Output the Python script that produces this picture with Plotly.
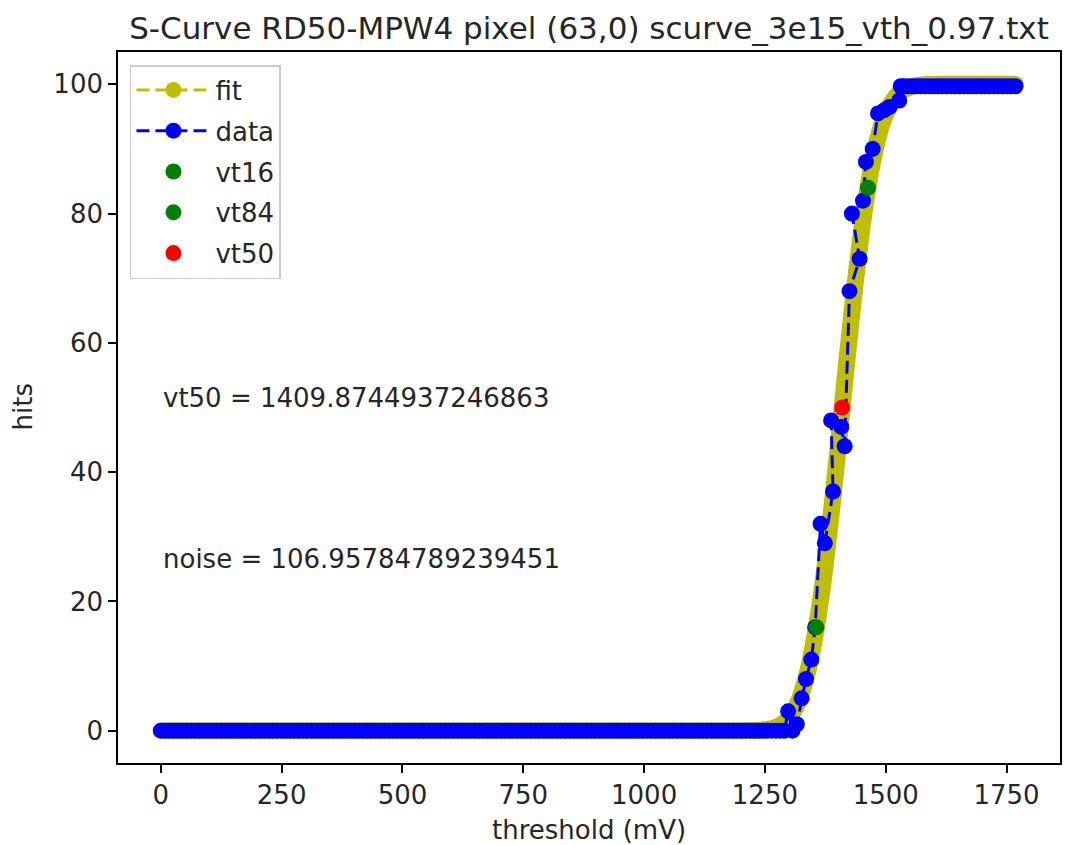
import plotly.graph_objects as go

# ---------------- data ----------------
title_text = "S-Curve RD50-MPW4 pixel (63,0) scurve_3e15_vth_0.97.txt"
vt50 = 1409.8744937246863
noise = 106.95784789239451
vt16 = vt50 - noise / 2
vt84 = vt50 + noise / 2

low_thresholds = [round(i * 8.9, 1) for i in range(146)]          # 0 .. 1290.5 mV
low_hits = [0] * 146
trans_thresholds = [1298, 1307, 1316, 1326, 1335, 1346, 1354, 1365, 1374, 1391,
                    1387, 1408, 1415, 1425, 1446, 1430, 1453, 1459, 1473, 1484,
                    1497, 1508, 1528, 1531]
trans_hits = [3, 0, 1, 5, 8, 11, 16, 32, 29, 37,
              48, 47, 44, 68, 73, 80, 82, 88, 90, 95.5,
              96, 96.5, 97.5, 99.7]
high_thresholds = [round(1537 + i * 8.9, 1) for i in range(27)]    # 1537 .. 1768 mV
high_hits = [99.7] * 27

data_x = low_thresholds + trans_thresholds + high_thresholds
data_y = low_hits + trans_hits + high_hits

# fit curve values (10 mV grid)
fit_low_x = list(range(0, 1200, 10))
fit_low_y = [0] * len(fit_low_x)
fit_mid_x = list(range(1200, 1610, 10))
fit_mid_y = [0.0, 0.01, 0.02, 0.04, 0.07, 0.14, 0.26, 0.44, 0.75, 1.25,
             2.0, 3.1, 4.6, 6.8, 9.6, 13.2, 17.6, 22.8, 28.9, 35.5,
             42.7, 50.1, 57.5, 64.6, 71.3, 77.3, 82.6, 86.9, 90.5, 93.3,
             95.4, 96.9, 98.0, 98.8, 99.25, 99.56, 99.75, 99.86, 99.93, 99.96,
             99.98]
fit_high_x = list(range(1610, 1780, 10))
fit_high_y = [100] * len(fit_high_x)
fit_x = fit_low_x + fit_mid_x + fit_high_x
fit_y = fit_low_y + fit_mid_y + fit_high_y

x_ticks = [0, 250, 500, 750, 1000, 1250, 1500, 1750]
y_ticks = [0, 20, 40, 60, 80, 100]

# ---------------- styles ----------------
YEL = "#bfbf00"
BLUE = "#0000ff"
GREEN = "#008000"
RED = "#ff0000"
FONT = "DejaVu Sans"
TXT = "#262626"
FS = 26
MS = 16

fig = go.Figure()

# thick fit band (dense markers in the original)
fig.add_trace(go.Scatter(
    x=fit_x, y=fit_y, mode="lines+markers", line=dict(color=YEL, width=17, shape="spline"),
    marker=dict(color=YEL, size=MS), showlegend=False, hoverinfo="skip"))
# legend entry for fit
fig.add_trace(go.Scatter(
    x=[None], y=[None], mode="lines+markers", name="fit", legendgroup="g1",
    line=dict(color=YEL, width=3, dash="13px,6px"), marker=dict(color=YEL, size=MS)))
fig.add_trace(go.Scatter(
    x=data_x, y=data_y, mode="lines+markers", name="data", legendgroup="g2",
    line=dict(color=BLUE, width=3, dash="13px,6px"), marker=dict(color=BLUE, size=MS)))
fig.add_trace(go.Scatter(
    x=[vt16], y=[16], mode="markers", name="vt16", legendgroup="g3",
    marker=dict(color=GREEN, size=MS)))
fig.add_trace(go.Scatter(
    x=[vt84], y=[84], mode="markers", name="vt84", legendgroup="g4",
    marker=dict(color=GREEN, size=MS)))
fig.add_trace(go.Scatter(
    x=[vt50], y=[50], mode="markers", name="vt50", legendgroup="g5",
    marker=dict(color=RED, size=MS)))

axis_common = dict(
    showline=True, mirror=True, linecolor="black", linewidth=1.6,
    ticks="outside", ticklen=8, tickwidth=1.6, tickcolor="black",
    showgrid=False, zeroline=False,
    tickfont=dict(family=FONT, size=FS, color=TXT),
)

W, H = 1071, 845
L, R, T, B = 118, 9, 52, 82

fig.update_layout(
    width=W, height=H,
    margin=dict(l=L, r=R, t=T, b=B),
    paper_bgcolor="white", plot_bgcolor="white",
    font=dict(family=FONT, color=TXT),
    title=dict(text=title_text, x=0.5, xref="paper", xanchor="center",
               y=1 - 28 / H, yref="container", yanchor="middle",
               font=dict(family=FONT, size=31, color=TXT)),
    xaxis=dict(range=[-88.6, 1860.6], tickvals=x_ticks, **axis_common),
    yaxis=dict(range=[-5, 105], tickvals=y_ticks, **axis_common),
    legend=dict(x=12 / 944, y=(763 - 65) / 711, xanchor="left", yanchor="top",
                bgcolor="rgba(255,255,255,0.8)", bordercolor="#cccccc", borderwidth=1.5,
                font=dict(family=FONT, size=FS, color=TXT),
                tracegroupgap=4, itemwidth=74),
    showlegend=True,
)

annos = [
    dict(text="threshold (mV)", xref="paper", yref="paper", x=0.5, y=0,
         xanchor="center", yanchor="middle", yshift=-67, showarrow=False,
         font=dict(family=FONT, size=FS, color=TXT)),
    dict(text="hits", xref="paper", yref="paper", x=0, y=0.5, textangle=-90,
         xanchor="center", yanchor="middle", xshift=-96, showarrow=False,
         font=dict(family=FONT, size=FS, color=TXT)),
    dict(text="vt50 = " + repr(vt50), xref="x", yref="y", x=0, y=50,
         xanchor="left", yanchor="middle", yshift=10, showarrow=False,
         font=dict(family=FONT, size=FS, color=TXT)),
    dict(text="noise = " + repr(noise), xref="x", yref="y", x=0, y=25,
         xanchor="left", yanchor="middle", yshift=10, showarrow=False,
         font=dict(family=FONT, size=FS, color=TXT)),
]
fig.update_layout(annotations=annos)

fig.write_html("out.html", config={"displayModeBar": False},
               post_script="document.body.style.margin='0';")
